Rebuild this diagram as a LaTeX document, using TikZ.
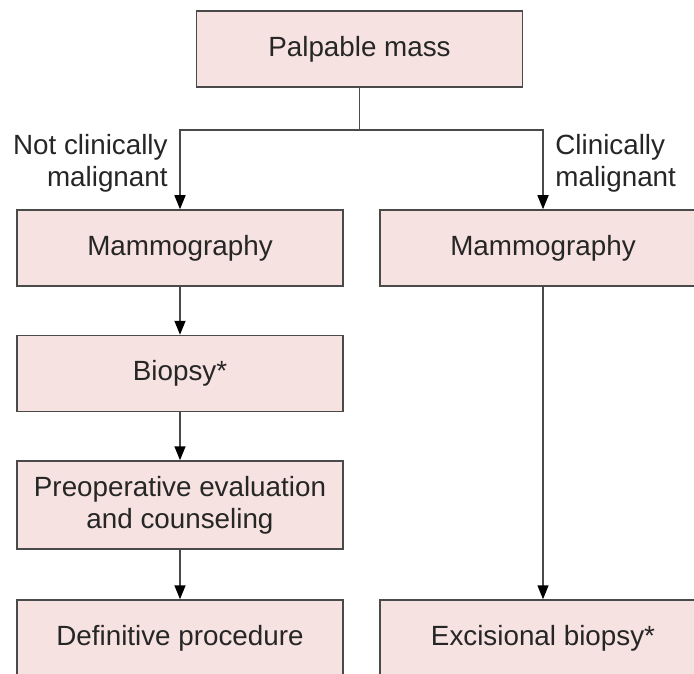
\documentclass[tikz,border=0pt]{standalone}
\usepackage{fontspec}
\setmainfont{Liberation Sans}
\usetikzlibrary{arrows.meta,positioning}
\definecolor{boxpink}{HTML}{F6E2E0}
\definecolor{edgegray}{HTML}{4A4A4A}
\definecolor{inkgray}{HTML}{262626}
\begin{document}
\begin{tikzpicture}[x=.5pt,y=-.5pt,>={Triangle[width=5.5pt,length=7pt,color=black]},
 font=\fontsize{13.9}{16}\selectfont,
 box/.style={draw=edgegray,fill=boxpink,line width=.75pt,minimum width=163pt,minimum height=38pt,inner sep=0pt,text=inkgray,align=center},
 lbl/.style={inner sep=0pt,text=inkgray},
 link/.style={draw=edgegray,line width=.75pt}]
\useasboundingbox (0,0) rectangle (694,673);
\clip (0,0) rectangle (694,673);
% top
\node[box] (mass) at (359.5,49) {Palpable mass};
% left column
\node[box] (mamL) at (180,248) {Mammography};
\node[box] (biop) at (180,373.5) {Biopsy*};
\node[box,minimum height=44pt] (preop) at (180,505) {Preoperative evaluation\\and counseling};
\node[box] (defin) at (180,638) {Definitive procedure};
% right column
\node[box] (mamR) at (543,248) {Mammography};
\node[box] (excis) at (543,638) {Excisional biopsy*};
% branch labels
\node[lbl,align=right,anchor=north east] (notmal) at (168,134) {Not clinically\\malignant};
\node[lbl,align=left,anchor=north west] (climal) at (555,134) {Clinically\\malignant};
% connectors
\coordinate (split) at (359.5,130);
\draw[link] (mass) -- (split);
\draw[link,->] (split) -| (mamL);
\draw[link,->] (split) -| (mamR);
\draw[link,->] (mamL) -- (biop);
\draw[link,->] (biop) -- (preop);
\draw[link,->] (preop) -- (defin);
\draw[link,->] (mamR) -- (excis);
\end{tikzpicture}
\end{document}
